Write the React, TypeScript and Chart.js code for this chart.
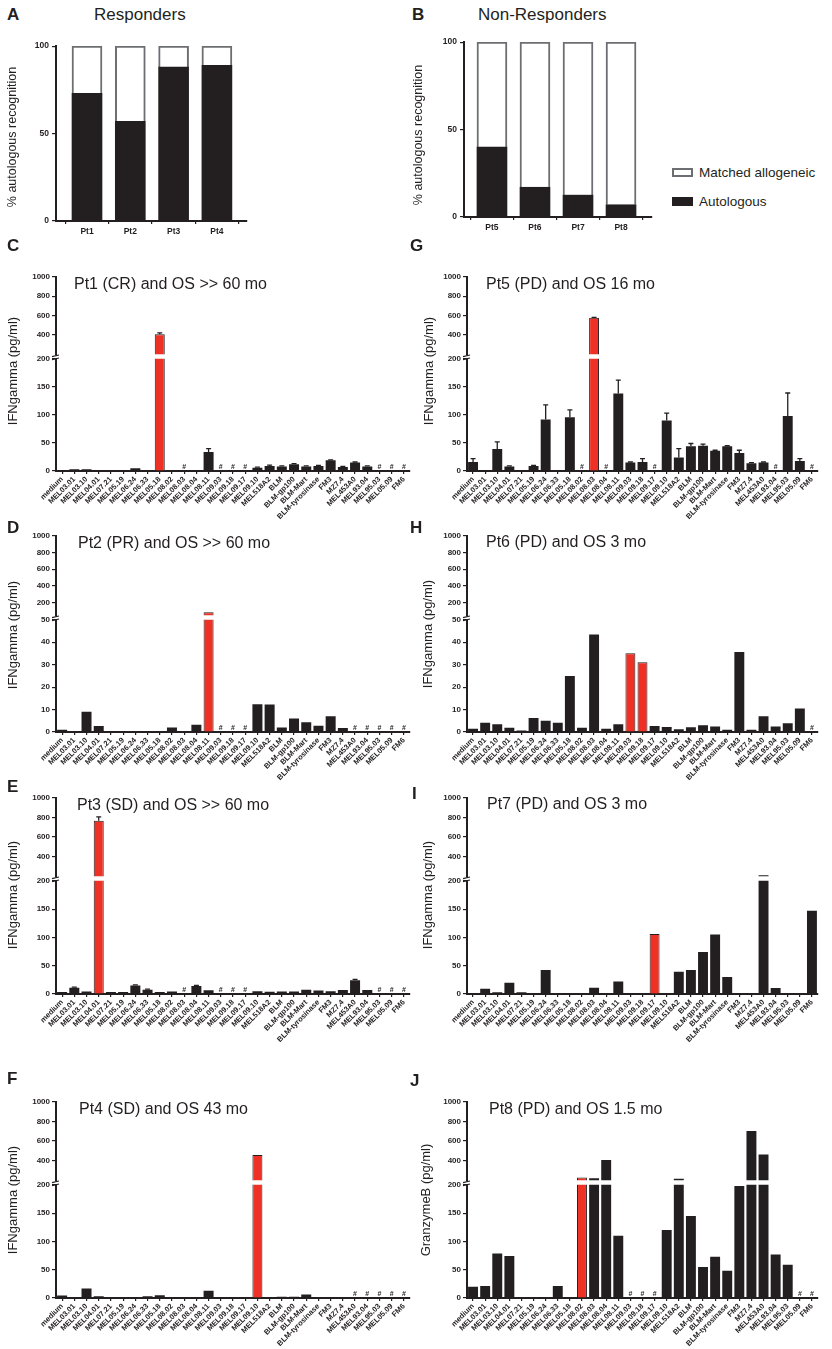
import React, { useEffect, useRef } from "react";
import { Chart, registerables } from "chart.js";

Chart.register(...registerables);

const FONT = "'Liberation Sans', Arial, Helvetica, sans-serif";
const INK = "#231f20";
const RED = "#ee3124";
const GREY = "#6d6e71";

Chart.defaults.font.family = FONT;
Chart.defaults.color = INK;

// ---- data ----
const cellLines = [
  "medium", "MEL03.01", "MEL03.10", "MEL04.01", "MEL07.21", "MEL05.19", "MEL06.24", "MEL06.33",
  "MEL05.18", "MEL08.02", "MEL08.03", "MEL08.04", "MEL08.11", "MEL09.03", "MEL09.18", "MEL09.17",
  "MEL09.10", "MEL518A2", "BLM", "BLM-gp100", "BLM-Mart", "BLM-tyrosinase", "FM3", "MZ7.4",
  "MEL453A0", "MEL93.04", "MEL95.03", "MEL05.09", "FM6",
];

const respLabels = ["Pt1", "Pt2", "Pt3", "Pt4"];
const respAutologous = [73, 57, 88, 89];
const respAllogeneic = [27, 43, 12, 11];

const nonRespLabels = ["Pt5", "Pt6", "Pt7", "Pt8"];
const nonRespAutologous = [40, 17, 12.5, 7];
const nonRespAllogeneic = [60, 83, 87.5, 93];

// Pt1 (C)
const pt1Values = [0.5, 3, 3, 2, 1, 0.5, 5, 2, 405, 1, 0, 1, 34, 0, 0, 0, 6, 9, 8, 12, 8, 9, 19, 7, 15, 8, 0, 0, 0];
const pt1Errors = [0.5, 0.8, 0.8, 0.5, 0.3, 0, 0.8, 0.5, 15, 0.3, 0, 0.3, 6, 0, 0, 0, 1, 1.5, 1, 1, 1, 1, 1, 1, 1, 1, 0, 0, 0];
const pt1Hash = [10, 13, 14, 15, 26, 27, 28];
const pt1Red = [8];

// Pt2 (D)
const pt2Values = [1, 0, 9, 2.7, 0, 0, 0, 0, 0, 2, 0, 3.2, 85, 0, 0, 0, 12.4, 12.2, 2, 6, 4.4, 2.8, 7, 1.8, 0, 0, 0, 0, 0];
const pt2Hash = [13, 14, 15, 24, 25, 26, 27, 28];
const pt2Red = [12];

// Pt3 (E)
const pt3Values = [3.5, 11, 4.5, 765, 3.5, 3.5, 15, 7.5, 3.5, 4.5, 0, 14, 6.5, 0, 0, 0, 5, 4, 4.5, 4.5, 7.5, 6, 5, 7, 24.5, 7, 0, 0, 0];
const pt3Errors = [0.5, 1, 0.5, 40, 0.3, 0.3, 1, 1, 0.3, 0.3, 0, 1, 0.5, 0, 0, 0, 0.3, 0.3, 0.3, 0.3, 0.5, 0.3, 0.3, 0.3, 1.5, 0.5, 0, 0, 0];
const pt3Hash = [10, 13, 14, 15, 26, 27, 28];
const pt3Red = [3];

// Pt4 (F)
const pt4Values = [4.6, 0, 17, 3, 0, 0, 0, 3, 5, 0, 0, 0, 13, 0, 0, 0, 456, 0, 2.3, 2.3, 6, 1.7, 1.7, 0, 0, 0, 0, 0, 0];
const pt4Hash = [24, 25, 26, 27, 28];
const pt4Red = [16];

// Pt5 (G)
const pt5Values = [16, 0, 39, 8, 0, 9, 92, 0, 96, 0, 577, 0, 138, 15, 16, 0, 90, 24, 44, 45, 36, 44, 32, 14, 15, 0, 98, 18, 0];
const pt5Errors = [6, 0, 13, 1, 0, 1, 26, 0, 13, 0, 4, 0, 24, 1, 6, 0, 13, 16, 5, 3, 1, 1, 5, 1, 1, 0, 41, 4, 0];
const pt5Hash = [9, 11, 15, 25, 28];
const pt5Red = [10];

// Pt6 (H)
const pt6Values = [1.5, 4.1, 3.4, 1.9, 0.7, 6.2, 5, 4.1, 25, 1.9, 43.4, 1.5, 3.4, 35.1, 31.1, 2.7, 2.2, 1.2, 2.1, 3, 2.4, 1, 35.7, 1, 7, 2.4, 3.9, 10.5, 0];
const pt6Hash = [28];
const pt6Red = [13, 14];

// Pt7 (I)
const pt7Values = [0, 9.3, 3, 20, 3, 0, 42.4, 0, 0, 0, 11, 0, 22, 0, 0, 106, 0, 39.5, 42.4, 74, 105, 30, 0, 0, 210, 10.5, 0, 0, 147];
const pt7Red = [15];

// Pt8 (J)
const pt8Values = [19.8, 21, 78.5, 74.4, 0, 0, 0, 21, 0, 228, 220, 406, 110, 0, 0, 0, 120, 216, 145, 54.7, 72.7, 48, 198, 703, 462, 76.7, 58.7, 0, 0];
const pt8Hash = [13, 14, 15, 27, 28];
const pt8Red = [9];

// ---- layout ----
type Row = { upperTop: number; upperBottom: number; lowerTop: number; lowerBottom: number };
const ROWS: Row[] = [
  { upperTop: 276, upperBottom: 355, lowerTop: 358, lowerBottom: 471 },
  { upperTop: 535, upperBottom: 616, lowerTop: 619, lowerBottom: 732 },
  { upperTop: 797, upperBottom: 877, lowerTop: 880, lowerBottom: 994 },
  { upperTop: 1101, upperBottom: 1181, lowerTop: 1184, lowerBottom: 1298 },
];
const COLS = [
  { left: 0, axisX: 56, plotW: 354 },
  { left: 416, axisX: 467, plotW: 351 },
];
const RIGHT_PAD = 8;
const X_AXIS_H = 52;

const tickFont = { family: FONT, size: 8, weight: "bold" as const };
const xTickFont = { family: FONT, size: 7.5, weight: "bold" as const };

function yAxisBase(width: number) {
  return {
    border: { display: true, color: INK, width: 2 },
    grid: { display: true, drawOnChartArea: false, drawTicks: true, tickLength: 4, color: INK, lineWidth: 1.2 },
    ticks: { font: tickFont, color: INK, padding: 2, callback: (v: any) => String(v) },
    afterFit: (s: any) => {
      s.width = width;
    },
  };
}

function errorPlugin(values: number[], errors?: number[]) {
  return {
    id: "errorBars",
    afterDatasetsDraw(chart: any) {
      if (!errors) return;
      const { ctx, chartArea } = chart;
      const meta = chart.getDatasetMeta(0);
      const xs = chart.scales.x;
      const y = chart.scales.y;
      ctx.save();
      ctx.beginPath();
      ctx.rect(chartArea.left, chartArea.top - 1, chartArea.right - chartArea.left, chartArea.bottom - chartArea.top + 1);
      ctx.clip();
      ctx.strokeStyle = INK;
      ctx.lineWidth = 1.3;
      values.forEach((v, i) => {
        const e = errors[i];
        if (!e || e < 0.9) return;
        const x = meta.data[i] ? meta.data[i].x : xs.getPixelForValue(i);
        const y0 = y.getPixelForValue(v);
        const y1 = y.getPixelForValue(v + e);
        ctx.beginPath();
        ctx.moveTo(x, y0);
        ctx.lineTo(x, y1);
        ctx.moveTo(x - 2.5, y1);
        ctx.lineTo(x + 2.5, y1);
        ctx.stroke();
      });
      ctx.restore();
    },
  };
}

function hashPlugin(hash: number[]) {
  return {
    id: "hashMarks",
    afterDatasetsDraw(chart: any) {
      const { ctx, chartArea } = chart;
      const xs = chart.scales.x;
      ctx.save();
      ctx.fillStyle = INK;
      ctx.font = `bold 7px ${FONT}`;
      ctx.textAlign = "center";
      ctx.textBaseline = "alphabetic";
      hash.forEach((i) => {
        ctx.fillText("#", xs.getPixelForValue(i), chartArea.bottom - 2);
      });
      ctx.restore();
    },
  };
}

const breakPlugin = {
  id: "axisBreak",
  afterDraw(chart: any) {
    const { ctx, chartArea } = chart;
    ctx.save();
    ctx.strokeStyle = INK;
    ctx.lineWidth = 1.2;
    [0, -3].forEach((dy) => {
      ctx.beginPath();
      ctx.moveTo(chartArea.left - 4, chartArea.top + dy + 0.8);
      ctx.lineTo(chartArea.left + 3, chartArea.top + dy - 0.8);
      ctx.stroke();
    });
    ctx.restore();
  },
};

interface BrokenProps {
  values: number[];
  errors?: number[];
  hash?: number[];
  red: number[];
  col: number;
  row: number;
  lowerMax: number;
  lowerStep: number;
  upperMin: number;
  upperTicks: number[];
}

function BrokenAxisChart({ values, errors, hash = [], red, col, row, lowerMax, lowerStep, upperMin, upperTicks }: BrokenProps) {
  const upperRef = useRef<HTMLCanvasElement | null>(null);
  const lowerRef = useRef<HTMLCanvasElement | null>(null);
  const c = COLS[col];
  const r = ROWS[row];
  const width = c.axisX - c.left + c.plotW + RIGHT_PAD;
  const yWidth = c.axisX - c.left;

  useEffect(() => {
    const colors = values.map((_, i) => (red.includes(i) ? RED : INK));
    const borders = values.map((_, i) => (red.includes(i) ? 1 : 0));
    const makeDataset = (data: (number | null)[]) => ({
      data,
      backgroundColor: colors,
      borderColor: INK,
      borderWidth: borders,
      barPercentage: 0.82,
      categoryPercentage: 1,
      clip: 0,
    });

    // the upper segment only shows bars that pass the axis break
    const upperData = values.map((v) => (v > upperMin ? v : null));

    const upper = new Chart(upperRef.current as HTMLCanvasElement, {
      type: "bar",
      data: { labels: cellLines, datasets: [makeDataset(upperData) as any] },
      options: {
        animation: false,
        responsive: true,
        maintainAspectRatio: false,
        layout: { padding: { top: 6, bottom: 6, left: 0, right: RIGHT_PAD } },
        plugins: { legend: { display: false }, tooltip: { enabled: false } },
        scales: {
          x: { display: false, offset: true },
          y: {
            ...yAxisBase(yWidth),
            min: upperMin,
            max: 1000,
            afterBuildTicks: (s: any) => {
              s.ticks = upperTicks.map((v) => ({ value: v }));
            },
          } as any,
        },
      },
      plugins: [errorPlugin(values, errors)],
    });

    const lower = new Chart(lowerRef.current as HTMLCanvasElement, {
      type: "bar",
      data: { labels: cellLines, datasets: [makeDataset(values) as any] },
      options: {
        animation: false,
        responsive: true,
        maintainAspectRatio: false,
        layout: { padding: { top: 6, bottom: 0, left: 0, right: RIGHT_PAD } },
        plugins: { legend: { display: false }, tooltip: { enabled: false } },
        scales: {
          x: {
            type: "category",
            offset: true,
            border: { display: true, color: INK, width: 2 },
            grid: { display: true, offset: false, drawOnChartArea: false, drawTicks: true, tickLength: 3, color: INK, lineWidth: 1.2 },
            ticks: { autoSkip: false, minRotation: 45, maxRotation: 45, font: xTickFont, color: INK, padding: 1 },
            afterFit: (s: any) => {
              s.height = X_AXIS_H;
            },
          } as any,
          y: {
            ...yAxisBase(yWidth),
            min: 0,
            max: lowerMax,
            ticks: { ...yAxisBase(yWidth).ticks, stepSize: lowerStep },
          } as any,
        },
      },
      plugins: [errorPlugin(values, errors), hashPlugin(hash), breakPlugin],
    });

    return () => {
      upper.destroy();
      lower.destroy();
    };
  }, []);

  return (
    <>
      <div
        style={{
          position: "absolute",
          left: c.left,
          top: r.upperTop - 6,
          width,
          height: r.upperBottom - r.upperTop + 12,
        }}
      >
        <canvas ref={upperRef} />
      </div>
      <div
        style={{
          position: "absolute",
          left: c.left,
          top: r.lowerTop - 6,
          width,
          height: r.lowerBottom - r.lowerTop + 6 + X_AXIS_H,
        }}
      >
        <canvas ref={lowerRef} />
      </div>
    </>
  );
}

interface PercentProps {
  labels: string[];
  autologous: number[];
  allogeneic: number[];
  left: number;
  axisX: number;
  plotW: number;
  top: number;
  bottom: number;
  xMin: number;
  xMax: number;
}

function PercentChart({ labels, autologous, allogeneic, left, axisX, plotW, top, bottom, xMin, xMax }: PercentProps) {
  const ref = useRef<HTMLCanvasElement | null>(null);
  const width = axisX - left + plotW + RIGHT_PAD;
  const xH = 22;

  useEffect(() => {
    const chart = new Chart(ref.current as HTMLCanvasElement, {
      type: "bar",
      data: {
        datasets: [
          {
            label: "Autologous",
            data: autologous.map((y, i) => ({ x: i + 1, y })),
            backgroundColor: INK,
            borderWidth: 0,
            barThickness: 30,
          },
          {
            label: "Matched allogeneic",
            data: allogeneic.map((y, i) => ({ x: i + 1, y })),
            backgroundColor: "#ffffff",
            borderColor: GREY,
            borderWidth: 2,
            barThickness: 30,
          },
        ] as any,
      },
      options: {
        animation: false,
        responsive: true,
        maintainAspectRatio: false,
        layout: { padding: { top: 6, bottom: 0, left: 0, right: RIGHT_PAD } },
        plugins: { legend: { display: false }, tooltip: { enabled: false } },
        scales: {
          x: {
            type: "linear",
            min: xMin,
            max: xMax,
            stacked: true,
            offset: false,
            border: { display: true, color: INK, width: 2 },
            grid: { display: true, drawOnChartArea: false, drawTicks: true, tickLength: 3, color: INK, lineWidth: 1.2 },
            afterBuildTicks: (s: any) => {
              s.ticks = labels.map((_, i) => ({ value: i + 1 }));
            },
            ticks: {
              font: { family: FONT, size: 8.5, weight: "bold" },
              color: INK,
              padding: 3,
              callback: (v: any) => labels[Number(v) - 1] ?? "",
            },
            afterFit: (s: any) => {
              s.height = xH;
            },
          } as any,
          y: {
            ...yAxisBase(axisX - left),
            stacked: true,
            min: 0,
            max: 100,
            ticks: { font: { family: FONT, size: 8.5, weight: "bold" }, color: INK, padding: 3, stepSize: 50 },
          } as any,
        },
      },
    });
    return () => chart.destroy();
  }, []);

  return (
    <div style={{ position: "absolute", left, top: top - 6, width, height: bottom - top + 6 + xH }}>
      <canvas ref={ref} />
    </div>
  );
}

function Txt({ x, y, size, bold, children }: any) {
  return (
    <div
      style={{
        position: "absolute",
        left: x,
        top: y,
        transform: "translateY(-50%)",
        fontSize: size,
        fontWeight: bold ? "bold" : "normal",
        lineHeight: 1,
        whiteSpace: "nowrap",
        color: INK,
      }}
    >
      {children}
    </div>
  );
}

function VTxt({ x, y, size, children }: any) {
  return (
    <div
      style={{
        position: "absolute",
        left: x,
        top: y,
        transform: "translate(-50%, -50%) rotate(-90deg)",
        fontSize: size,
        fontWeight: "normal",
        lineHeight: 1,
        whiteSpace: "nowrap",
        color: INK,
      }}
    >
      {children}
    </div>
  );
}

export default function App() {
  return (
    <div
      style={{
        position: "absolute",
        left: 0,
        top: 0,
        width: 832,
        height: 1349,
        background: "#ffffff",
        fontFamily: FONT,
        overflow: "hidden",
      }}
    >
      {/* charts */}
      <PercentChart labels={respLabels} autologous={respAutologous} allogeneic={respAllogeneic}
        left={0} axisX={56} plotW={191} top={44} bottom={221} xMin={0.284} xMax={4.695} />
      <PercentChart labels={nonRespLabels} autologous={nonRespAutologous} allogeneic={nonRespAllogeneic}
        left={416} axisX={464} plotW={188} top={40} bottom={217} xMin={0.35} xMax={4.72} />
      <BrokenAxisChart values={pt1Values} errors={pt1Errors} hash={pt1Hash} red={pt1Red}
        col={0} row={0} lowerMax={200} lowerStep={50} upperMin={200} upperTicks={[400, 600, 800, 1000]} />
      <BrokenAxisChart values={pt5Values} errors={pt5Errors} hash={pt5Hash} red={pt5Red}
        col={1} row={0} lowerMax={200} lowerStep={50} upperMin={200} upperTicks={[400, 600, 800, 1000]} />
      <BrokenAxisChart values={pt2Values} hash={pt2Hash} red={pt2Red}
        col={0} row={1} lowerMax={50} lowerStep={10} upperMin={50} upperTicks={[200, 400, 600, 800, 1000]} />
      <BrokenAxisChart values={pt6Values} hash={pt6Hash} red={pt6Red}
        col={1} row={1} lowerMax={50} lowerStep={10} upperMin={50} upperTicks={[200, 400, 600, 800, 1000]} />
      <BrokenAxisChart values={pt3Values} errors={pt3Errors} hash={pt3Hash} red={pt3Red}
        col={0} row={2} lowerMax={200} lowerStep={50} upperMin={200} upperTicks={[400, 600, 800, 1000]} />
      <BrokenAxisChart values={pt7Values} red={pt7Red}
        col={1} row={2} lowerMax={200} lowerStep={50} upperMin={200} upperTicks={[400, 600, 800, 1000]} />
      <BrokenAxisChart values={pt4Values} hash={pt4Hash} red={pt4Red}
        col={0} row={3} lowerMax={200} lowerStep={50} upperMin={200} upperTicks={[400, 600, 800, 1000]} />
      <BrokenAxisChart values={pt8Values} hash={pt8Hash} red={pt8Red}
        col={1} row={3} lowerMax={200} lowerStep={50} upperMin={200} upperTicks={[400, 600, 800, 1000]} />

      {/* A / B text */}
      <Txt x={7} y={14} size={17} bold>A</Txt>
      <Txt x={94} y={14} size={17}>Responders</Txt>
      <VTxt x={12} y={137} size={12.5}>% autologous recognition</VTxt>
      <Txt x={412} y={14} size={17} bold>B</Txt>
      <Txt x={478} y={14} size={17}>Non-Responders</Txt>
      <VTxt x={418} y={135} size={12.5}>% autologous recognition</VTxt>

      <div style={{ position: "absolute", left: 672, top: 168, width: 17, height: 5, border: `2px solid ${GREY}`, background: "#fff" }} />
      <Txt x={699} y={173} size={13.5}>Matched allogeneic</Txt>
      <div style={{ position: "absolute", left: 672, top: 197, width: 21, height: 9, background: INK }} />
      <Txt x={699} y={202} size={13.5}>Autologous</Txt>

      {/* C */}
      <Txt x={7} y={245} size={17} bold>C</Txt>
      <Txt x={74} y={284} size={16}>Pt1 (CR) and OS &gt;&gt; 60 mo</Txt>
      <VTxt x={12} y={371} size={13}>IFNgamma (pg/ml)</VTxt>

      {/* G */}
      <Txt x={410} y={245} size={17} bold>G</Txt>
      <Txt x={486} y={284} size={16}>Pt5 (PD) and OS 16 mo</Txt>
      <VTxt x={428} y={371} size={13}>IFNgamma (pg/ml)</VTxt>

      {/* D */}
      <Txt x={7} y={527} size={17} bold>D</Txt>
      <Txt x={78} y={543} size={16}>Pt2 (PR) and OS &gt;&gt; 60 mo</Txt>
      <VTxt x={12} y={635} size={13}>IFNgamma (pg/ml)</VTxt>

      {/* H */}
      <Txt x={410} y={527} size={17} bold>H</Txt>
      <Txt x={486} y={542} size={16}>Pt6 (PD) and OS 3 mo</Txt>
      <VTxt x={427} y={634} size={13}>IFNgamma (pg/ml)</VTxt>

      {/* E */}
      <Txt x={7} y={786} size={17} bold>E</Txt>
      <Txt x={77} y={805} size={16}>Pt3 (SD) and OS &gt;&gt; 60 mo</Txt>
      <VTxt x={12} y={895} size={13}>IFNgamma (pg/ml)</VTxt>

      {/* I */}
      <Txt x={412} y={793} size={17} bold>I</Txt>
      <Txt x={487} y={804} size={16}>Pt7 (PD) and OS 3 mo</Txt>
      <VTxt x={427} y={895} size={13}>IFNgamma (pg/ml)</VTxt>

      {/* F */}
      <Txt x={7} y={1078} size={17} bold>F</Txt>
      <Txt x={79} y={1109} size={16}>Pt4 (SD) and OS 43 mo</Txt>
      <VTxt x={12} y={1200} size={13}>IFNgamma (pg/ml)</VTxt>

      {/* J */}
      <Txt x={410} y={1080} size={17} bold>J</Txt>
      <Txt x={489} y={1109} size={16}>Pt8 (PD) and OS 1.5 mo</Txt>
      <VTxt x={425} y={1200} size={13}>GranzymeB (pg/ml)</VTxt>
    </div>
  );
}
